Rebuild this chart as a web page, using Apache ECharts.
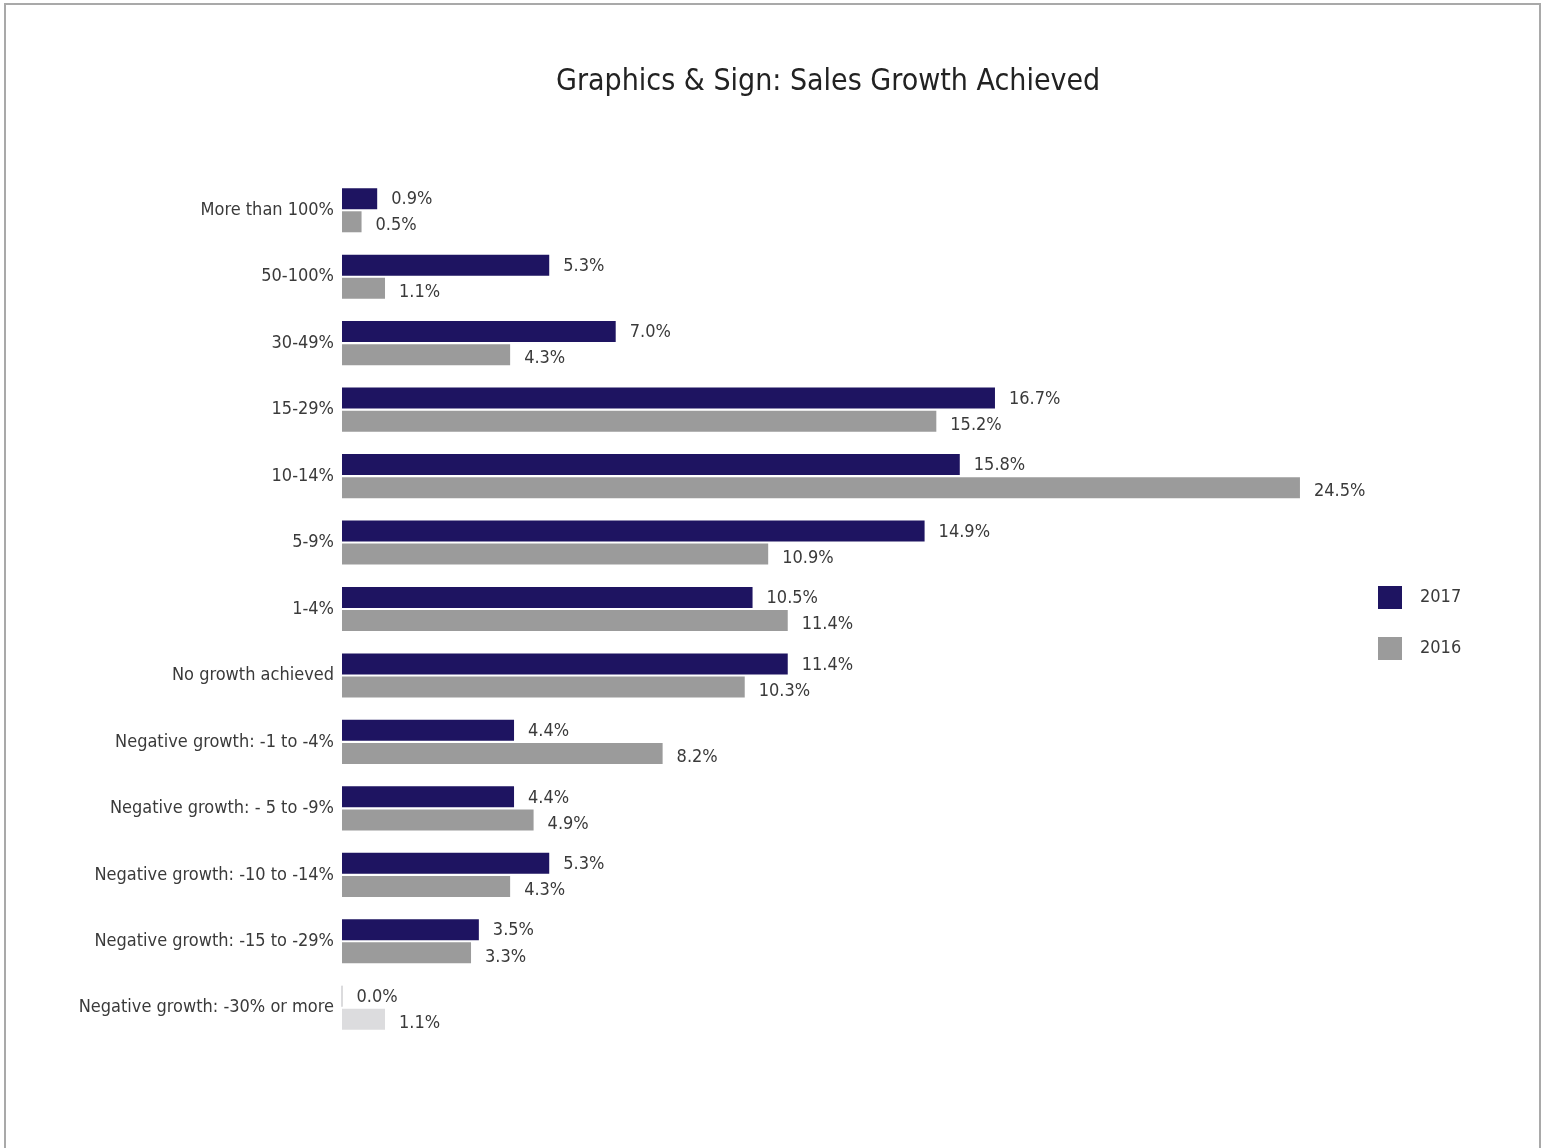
<!DOCTYPE html>
<html>
<head>
<meta charset="utf-8">
<script src="https://cdn.jsdelivr.net/npm/echarts@6/dist/echarts.min.js"></script>
<style>
html,body{margin:0;padding:0;background:#fff;}
#frame{position:absolute;left:4px;top:3px;width:1537px;height:1160px;border:2px solid #a9a9a9;box-sizing:border-box;}
#chart{position:absolute;left:0;top:0;width:1548px;height:1148px;}
</style>
</head>
<body>
<div id="frame"></div>
<div id="chart"></div>
<script>
const categories = [
  'More than 100%', '50-100%', '30-49%', '15-29%', '10-14%', '5-9%', '1-4%',
  'No growth achieved', 'Negative growth: -1 to -4%', 'Negative growth: - 5 to -9%',
  'Negative growth: -10 to -14%', 'Negative growth: -15 to -29%', 'Negative growth: -30% or more'
];
const values2017 = [0.9, 5.3, 7.0, 16.7, 15.8, 14.9, 10.5, 11.4, 4.4, 4.4, 5.3, 3.5, 0.0];
const values2016 = [0.5, 1.1, 4.3, 15.2, 24.5, 10.9, 11.4, 10.3, 8.2, 4.9, 4.3, 3.3, 1.1];
const seriesNames = ['2017', '2016'];

const FONT = '"Liberation Sans Narrow", "DejaVu Sans Condensed", "Roboto Condensed", Roboto, sans-serif';
const NAVY = '#1e1461';
const GRAY = '#9b9b9b';

const data2017 = values2017.map((v, i) => i === values2017.length - 1
  ? { value: v, itemStyle: { color: '#dcdcde', borderColor: '#cfcfd2', borderWidth: 1 } }
  : v);
const data2016 = values2016.map((v, i) => i === values2016.length - 1
  ? { value: v, itemStyle: { color: '#dcdcde' } }
  : v);

const labelCfg = {
  show: true, position: 'right', distance: 14,
  color: '#3a3a3a', fontSize: 18, fontFamily: FONT,
  formatter: p => p.value.toFixed(1) + '%'
};

const chart = echarts.init(document.getElementById('chart'));
chart.setOption({
  animation: false,
  backgroundColor: 'transparent',
  title: {
    text: 'Graphics & Sign: Sales Growth Achieved',
    left: 551, top: 62,
    textStyle: { fontFamily: FONT, fontSize: 30, fontWeight: 'normal', color: '#222' }
  },
  legend: {
    orient: 'vertical', left: 1373, top: 581,
    itemWidth: 24, itemHeight: 23, itemGap: 28,
    icon: 'rect',
    textStyle: { fontFamily: FONT, fontSize: 18, color: '#3a3a3a', padding: [0, 0, 0, 13] },
    data: seriesNames
  },
  grid: { left: 342, top: 177, bottom: 107, width: 28 * 39.1, containLabel: false },
  xAxis: {
    type: 'value', min: 0, max: 28, show: false
  },
  yAxis: {
    type: 'category', data: categories, inverse: true,
    axisLine: { show: false }, axisTick: { show: false },
    axisLabel: { fontFamily: FONT, fontSize: 18, color: '#3a3a3a', margin: 8 }
  },
  series: [
    { name: seriesNames[0], type: 'bar', data: data2017, barWidth: 21, barGap: '10%',
      itemStyle: { color: NAVY }, label: Object.assign({}, labelCfg, { offset: [0, 1] }) },
    { name: seriesNames[1], type: 'bar', data: data2016, barWidth: 21,
      itemStyle: { color: GRAY }, label: Object.assign({}, labelCfg, { offset: [0, 4] }) }
  ]
});
</script>
</body>
</html>
